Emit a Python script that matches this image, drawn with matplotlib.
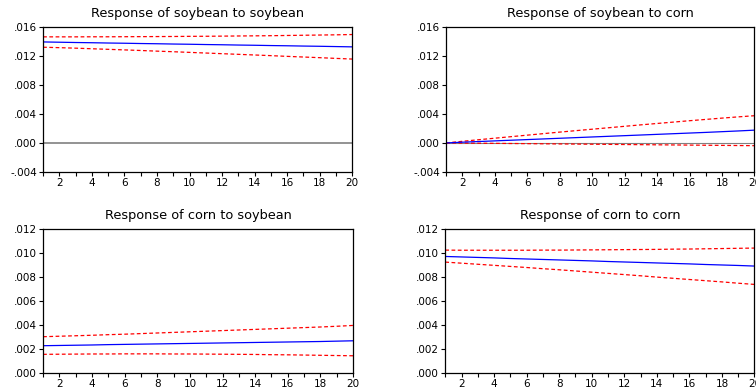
import numpy as np
import matplotlib.pyplot as plt
from matplotlib.ticker import FuncFormatter

plt.rcParams['font.family'] = ['DejaVu Sans']

periods = list(range(1, 21))

# Response of soybean to soybean
ss_mid = [0.01392, 0.01388, 0.01384, 0.01381, 0.01377, 0.01374, 0.01370, 0.01367, 0.01363, 0.01360,
          0.01356, 0.01353, 0.01349, 0.01346, 0.01342, 0.01339, 0.01335, 0.01332, 0.01328, 0.01324]
ss_up = [0.01462, 0.01462, 0.01462, 0.01463, 0.01463, 0.01464, 0.01465, 0.01466, 0.01467, 0.01469,
         0.01470, 0.01472, 0.01474, 0.01476, 0.01478, 0.01481, 0.01484, 0.01487, 0.01490, 0.01494]
ss_lo = [0.01319, 0.01313, 0.01306, 0.01298, 0.01290, 0.01282, 0.01274, 0.01265, 0.01257, 0.01248,
         0.01239, 0.01230, 0.01221, 0.01212, 0.01203, 0.01193, 0.01184, 0.01175, 0.01165, 0.01156]

# Response of soybean to corn
sc_mid = [0.0, 0.00010, 0.00019, 0.00028, 0.00037, 0.00046, 0.00055, 0.00064, 0.00073, 0.00082,
          0.00091, 0.00100, 0.00109, 0.00118, 0.00127, 0.00136, 0.00145, 0.00155, 0.00165, 0.00176]
sc_up = [0.0, 0.00022, 0.00044, 0.00065, 0.00086, 0.00107, 0.00128, 0.00149, 0.00169, 0.00189,
         0.00209, 0.00229, 0.00249, 0.00268, 0.00287, 0.00306, 0.00324, 0.00342, 0.00359, 0.00375]
sc_lo = [0.0, -0.00002, -0.00004, -0.00006, -0.00008, -0.00010, -0.00012, -0.00014, -0.00016, -0.00018,
         -0.00020, -0.00022, -0.00024, -0.00026, -0.00028, -0.00030, -0.00032, -0.00034, -0.00036, -0.00038]

# Response of corn to soybean
cs_mid = [0.00228, 0.00230, 0.00232, 0.00234, 0.00237, 0.00239, 0.00241, 0.00243, 0.00245, 0.00247,
          0.00249, 0.00251, 0.00253, 0.00255, 0.00257, 0.00259, 0.00261, 0.00263, 0.00266, 0.00269]
cs_up = [0.00303, 0.00307, 0.00311, 0.00315, 0.00320, 0.00324, 0.00329, 0.00334, 0.00339, 0.00344,
         0.00349, 0.00354, 0.00359, 0.00364, 0.00369, 0.00374, 0.00379, 0.00384, 0.00390, 0.00397]
cs_lo = [0.00156, 0.00157, 0.00158, 0.00159, 0.00159, 0.00160, 0.00160, 0.00160, 0.00159, 0.00159,
         0.00158, 0.00157, 0.00156, 0.00155, 0.00153, 0.00152, 0.00150, 0.00148, 0.00146, 0.00144]

# Response of corn to corn
cc_mid = [0.00972, 0.00968, 0.00964, 0.00960, 0.00955, 0.00951, 0.00947, 0.00943, 0.00939, 0.00935,
          0.00930, 0.00926, 0.00922, 0.00918, 0.00914, 0.00910, 0.00905, 0.00901, 0.00897, 0.00892]
cc_up = [0.01025, 0.01024, 0.01024, 0.01024, 0.01024, 0.01024, 0.01025, 0.01025, 0.01026, 0.01027,
         0.01028, 0.01029, 0.01030, 0.01031, 0.01033, 0.01034, 0.01036, 0.01038, 0.01040, 0.01042]
cc_lo = [0.00925, 0.00916, 0.00907, 0.00898, 0.00889, 0.00880, 0.00870, 0.00861, 0.00851, 0.00841,
         0.00831, 0.00821, 0.00811, 0.00800, 0.00790, 0.00780, 0.00770, 0.00760, 0.00749, 0.00739]

titles = ["Response of soybean to soybean", "Response of soybean to corn",
          "Response of corn to soybean", "Response of corn to corn"]
top_yticks = [-0.004, 0.0, 0.004, 0.008, 0.012, 0.016]
bot_yticks = [0.0, 0.002, 0.004, 0.006, 0.008, 0.010, 0.012]


def fmt(v, pos):
    # eviews style: .016, -.004
    s = "%.3f" % v
    if s == "-0.000":
        return ".000"
    if s.startswith("-0"):
        return "-" + s[2:]
    return s[1:]


fig = plt.figure(figsize=(7.56, 3.89), dpi=100)
boxes = [[0.057, 0.558, 0.409, 0.373], [0.590, 0.558, 0.408, 0.373],
         [0.057, 0.041, 0.410, 0.370], [0.589, 0.041, 0.409, 0.370]]
panels = [(ss_mid, ss_up, ss_lo, top_yticks, 1.2),
          (sc_mid, sc_up, sc_lo, top_yticks, 0.8),
          (cs_mid, cs_up, cs_lo, bot_yticks, 0),
          (cc_mid, cc_up, cc_lo, bot_yticks, 0)]

for i, (mid, up, lo, yt, zlw) in enumerate(panels):
    ax = fig.add_axes(boxes[i])
    if zlw:
        ax.axhline(0, color="#808080", lw=zlw, zorder=1)
    ax.plot(periods, up, color="red", lw=0.9, linestyle=(0, (3, 2)))
    ax.plot(periods, lo, color="red", lw=0.9, linestyle=(0, (3, 2)))
    ax.plot(periods, mid, color="blue", lw=0.9)
    ax.set_xlim(1, 20)
    ax.set_ylim(yt[0], yt[-1])
    ax.set_yticks(yt)
    ax.yaxis.set_major_formatter(FuncFormatter(fmt))
    ax.set_xticks(periods)
    ax.set_xticklabels([str(p) if p % 2 == 0 else "" for p in periods])
    ax.tick_params(direction="out", length=3, width=0.8, labelsize=7.5, pad=1.5)
    for sp in ax.spines.values():
        sp.set_linewidth(0.9)
    ax.set_title(titles[i], fontsize=9.3, pad=7)

fig.savefig("out.png", dpi=100)
